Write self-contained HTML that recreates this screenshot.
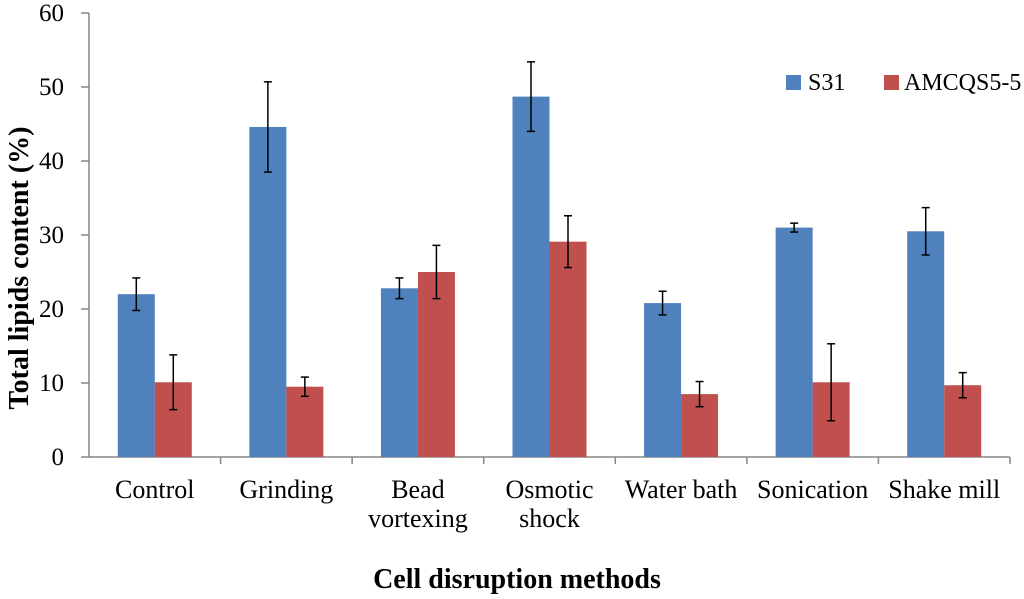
<!DOCTYPE html>
<html><head><meta charset="utf-8"><style>
body{margin:0;background:#fff;}
svg{display:block;font-family:"Liberation Serif",serif;}
</style></head><body>
<svg id="chart" width="1024" height="599"></svg>
<script>
const categories=[["Control"],["Grinding"],["Bead","vortexing"],["Osmotic","shock"],["Water bath"],["Sonication"],["Shake mill"]];
const s31=[22.0,44.6,22.8,48.7,20.8,31.0,30.5];
const s31Err=[2.2,6.1,1.4,4.7,1.6,0.6,3.2];
const amc=[10.1,9.5,25.0,29.1,8.5,10.1,9.7];
const amcErr=[3.7,1.3,3.6,3.5,1.7,5.2,1.7];
const yTicks=[0,10,20,30,40,50,60];
const NS="http://www.w3.org/2000/svg";
const svg=document.getElementById('chart');
const x0=89,x1=1010,yB=457,yT=13,yMax=60;
const y=v=>yB-(v/yMax)*(yB-yT);
const cw=(x1-x0)/categories.length;
const cx=i=>x0+cw*(i+0.5);
function el(t,a,p){const e=document.createElementNS(NS,t);for(const k in a)e.setAttribute(k,a[k]);(p||svg).appendChild(e);return e;}
let ax=el('line',{x1:x0,y1:yT,x2:x0,y2:yB,stroke:'#868686','stroke-width':1.5});


let xa=el('line',{x1:x0,y1:yB,x2:x1,y2:yB,stroke:'#868686','stroke-width':1.5});


yTicks.forEach(t=>{
 el('line',{x1:x0-8,y1:y(t),x2:x0,y2:y(t),stroke:'#868686','stroke-width':1.5});
 const tx=el('text',{x:x0-25,y:y(t)+8,'text-anchor':'end','font-size':25});
 tx.textContent=t;
 
 
});
const bw=37;
function bar(i,v,e,off,col,name){
 const xl=cx(i)+off;
 const r=el('rect',{x:xl,y:y(v),width:bw,height:yB-y(v),fill:col});
 
 
 const m=xl+bw/2;
 el('line',{x1:m,y1:y(v+e),x2:m,y2:y(v-e),stroke:'#000','stroke-width':1.5});
 el('line',{x1:m-4,y1:y(v+e),x2:m+4,y2:y(v+e),stroke:'#000','stroke-width':1.5});
 el('line',{x1:m-4,y1:y(v-e),x2:m+4,y2:y(v-e),stroke:'#000','stroke-width':1.5});
}
categories.forEach((c,i)=>{
 el('line',{x1:x0+cw*(i+1),y1:yB,x2:x0+cw*(i+1),y2:yB+7,stroke:'#868686','stroke-width':1.5});
 bar(i,s31[i],s31Err[i],-bw,'#4f81bd','bar-s31');
 bar(i,amc[i],amcErr[i],0,'#c0504d','bar-amcqs5-5');
 c.forEach((line,j)=>{
  const t=el('text',{x:cx(i),y:498+j*29,'text-anchor':'middle','font-size':26});
  t.textContent=line;
  
  
 });
});
const yt=el('text',{x:0,y:0,transform:'translate(28,268) rotate(-90)','text-anchor':'middle','font-size':28,'font-weight':'bold'});
yt.textContent='Total lipids content (%)';


const xt=el('text',{x:517,y:588,'text-anchor':'middle','font-size':28,'font-weight':'bold'});
xt.textContent='Cell disruption methods';


const l1=el('rect',{x:786,y:75,width:15,height:15,fill:'#4f81bd'});


const lt1=el('text',{x:808,y:90,'font-size':24});lt1.textContent='S31';


const l2=el('rect',{x:884,y:75,width:15,height:15,fill:'#c0504d'});


const lt2=el('text',{x:904,y:90,'font-size':24});lt2.textContent='AMCQS5-5';


</script>
</body></html>
